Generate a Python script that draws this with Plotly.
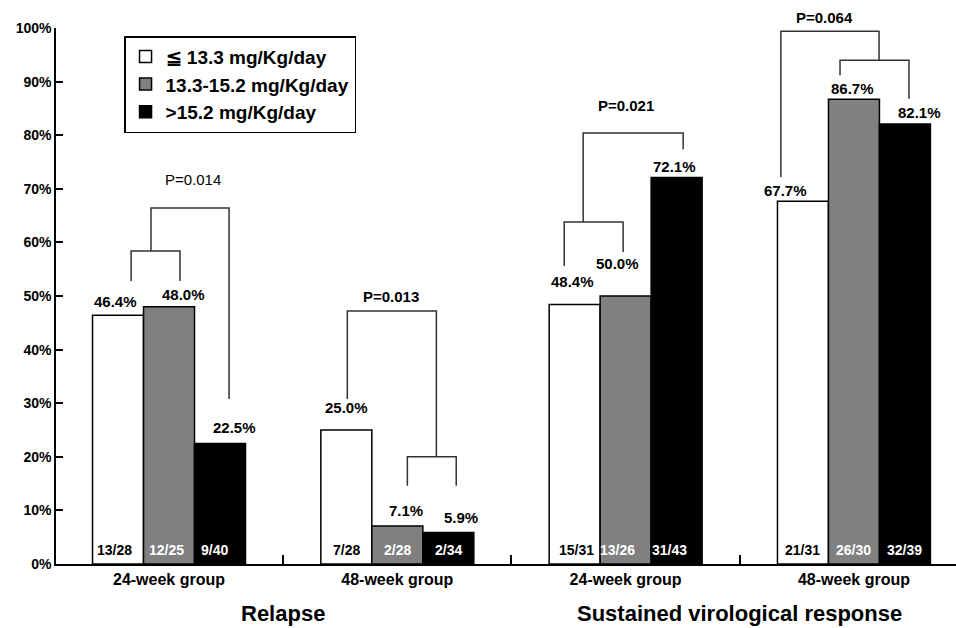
import plotly.graph_objects as go

# Groups along the x axis (two outcomes x two treatment durations)
group_labels = ["24-week group", "48-week group", "24-week group", "48-week group"]
outcome_labels = ["Relapse", "Sustained virological response"]

# Ribavirin dose categories
dose_names = ["\u2266 13.3 mg/Kg/day", "13.3-15.2 mg/Kg/day", ">15.2 mg/Kg/day"]

# Percentages per dose category, one value per group
pct_low = [46.4, 25.0, 48.4, 67.7]
pct_mid = [48.0, 7.1, 50.0, 86.7]
pct_high = [22.5, 5.9, 72.1, 82.1]

# Patient counts (events / total)
n_low = [13, 7, 15, 21]
N_low = [28, 28, 31, 31]
n_mid = [12, 2, 13, 26]
N_mid = [25, 28, 26, 30]
n_high = [9, 2, 31, 32]
N_high = [40, 34, 43, 39]

# P values of the trend tests
p_values = ["P=0.014", "P=0.013", "P=0.021", "P=0.064"]

# y axis ticks
y_ticks = list(range(0, 101, 10))
y_tick_text = [f"{t}%" for t in y_ticks]

series = [
    dict(name=dose_names[0], pct=pct_low, n=n_low, N=N_low, fill="#ffffff", ink="#000000"),
    dict(name=dose_names[1], pct=pct_mid, n=n_mid, N=N_mid, fill="#808080", ink="#ffffff"),
    dict(name=dose_names[2], pct=pct_high, n=n_high, N=N_high, fill="#000000", ink="#ffffff"),
]

FONT = "Liberation Sans, Arial, Helvetica, sans-serif"
BARGAP = 0.33
bar_w = (1 - BARGAP) / 3
x_pos = list(range(len(group_labels)))

fig = go.Figure()
for i, s in enumerate(series):
    fig.add_trace(go.Bar(
        x=x_pos, y=s["pct"], name=s["name"], legendgroup=str(i),
        marker=dict(color=s["fill"], line=dict(color="#000000", width=1.5)),
        hoverinfo="skip",
    ))

annotations = []
# label nudges (px) for the percentage labels above the bars
label_dx = [[-3, 14, 14], [0, 9, 13], [-2, -8, -2], [-17, -1, 15]]
label_dy = [[14, 12, 16], [23, 15, 15], [23, 33, 11], [11, 11, 11]]
count_dx = [[-4, -3, -6], [0, 0, 0], [2, -8, -7], [0, 0, 0]]
for i, s in enumerate(series):
    off = (i - 1) * bar_w
    for g in x_pos:
        v = s["pct"][g]
        annotations.append(dict(
            x=g + off, y=v, xref="x", yref="y", text=f"{v:.1f}%",
            showarrow=False, yanchor="middle", xshift=label_dx[g][i], yshift=label_dy[g][i],
            font=dict(family=FONT, size=15, color="#000000", weight="bold"),
        ))
        annotations.append(dict(
            x=g + off, y=0, xref="x", yref="y", text=f"{s['n'][g]}/{s['N'][g]}",
            showarrow=False, yanchor="bottom", yshift=4, xshift=count_dx[g][i],
            font=dict(family=FONT, size=14, color=s["ink"], weight="bold"),
        ))

# significance brackets: polylines in (group units, percent)
brackets = [
    [[(-0.166, 52.8), (-0.166, 58.4), (0.048, 58.4), (0.048, 52.8)],
     [(-0.079, 58.4), (-0.079, 66.4), (0.263, 66.4), (0.263, 30.8)]],
    [[(0.781, 30.8), (0.781, 47.2), (1.171, 47.2), (1.171, 20.0)],
     [(1.044, 14.6), (1.044, 20.0), (1.258, 20.0), (1.258, 14.6)]],
    [[(1.731, 55.6), (1.731, 63.8), (1.989, 63.8), (1.989, 58.2)],
     [(1.814, 63.8), (1.814, 80.4), (2.252, 80.4), (2.252, 77.4)]],
    [[(2.680, 72.2), (2.680, 99.4), (3.110, 99.4), (3.110, 94.0)],
     [(2.939, 91.2), (2.939, 94.0), (3.241, 94.0), (3.241, 86.8)]],
]
# P label anchor (group units, percent) and extra lift in px
p_pos = [(0.105, 71.8, 0), (0.974, 50.0, 0), (2.002, 85.6, 0), (2.869, 99.4, 14)]
p_bold = [False, True, True, True]

shapes = []
for group in brackets:
    for line in group:
        path = "M " + " L ".join(f"{x},{y}" for x, y in line)
        shapes.append(dict(type="path", path=path, xref="x", yref="y",
                           line=dict(color="#333333", width=1.5)))

for (px, py, lift), txt, b in zip(p_pos, p_values, p_bold):
    annotations.append(dict(
        x=px, y=py, xref="x", yref="y", text=txt, showarrow=False, yanchor="middle",
        yshift=lift,
        font=dict(family=FONT, size=15, color="#000000", weight="bold" if b else "normal"),
    ))

for k, t in enumerate(outcome_labels):
    annotations.append(dict(
        x=0.5 + 2 * k, y=0, xref="x", yref="paper", text=t, showarrow=False,
        yanchor="middle", yshift=-49,
        font=dict(family=FONT, size=22, color="#000000", weight="bold"),
    ))

fig.update_layout(
    width=956, height=628,
    margin=dict(l=56, r=0, t=28, b=64),
    paper_bgcolor="#ffffff", plot_bgcolor="#ffffff",
    barmode="group", bargap=BARGAP, bargroupgap=0,
    showlegend=True,
    legend=dict(
        x=0.0756, y=0.985, xanchor="left", yanchor="top",
        bgcolor="#ffffff", bordercolor="#000000", borderwidth=1.5,
        font=dict(family=FONT, size=19, color="#000000", weight="bold"),
        tracegroupgap=5, traceorder="normal",
    ),
    annotations=annotations,
    shapes=shapes,
    xaxis=dict(
        range=[-0.495, 3.447], tickvals=x_pos, ticktext=group_labels, ticks="",
        showline=True, linecolor="#000000", linewidth=1.5, showgrid=False, zeroline=False,
        tickfont=dict(family=FONT, size=16, color="#000000", weight="bold"),
        minor=dict(tickvals=[0.5, 1.5, 2.5], ticks="inside", ticklen=9,
                   tickwidth=1.5, tickcolor="#000000", showgrid=False),
    ),
    yaxis=dict(
        range=[0, 100], tickvals=y_ticks, ticktext=y_tick_text,
        ticks="inside", ticklen=7, tickwidth=1.5, tickcolor="#000000",
        showline=True, linecolor="#000000", linewidth=1.5, showgrid=False, zeroline=False,
        tickfont=dict(family=FONT, size=14, color="#000000", weight="bold"),
    ),
)

fig.write_html("out.html")
